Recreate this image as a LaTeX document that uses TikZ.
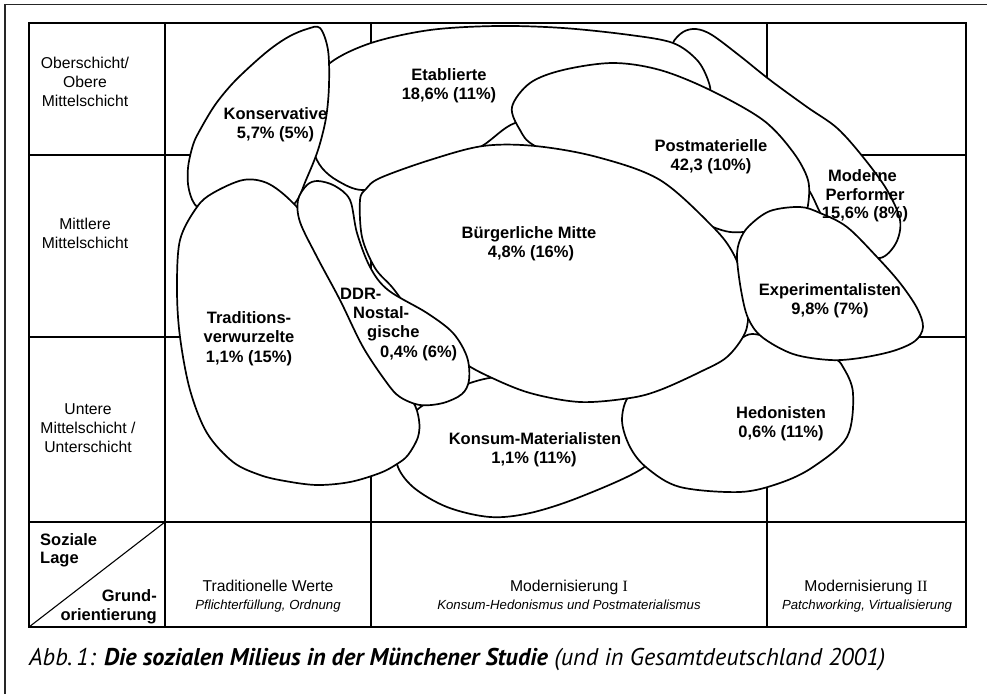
\documentclass[tikz,border=0pt]{standalone}
\usepackage{fontspec}
\setmainfont{Liberation Sans}
\newfontfamily\romfont{Liberation Serif}
\newfontfamily\capfont{PT Sans}
\begin{document}
\begin{tikzpicture}[x=1pt,y=-1pt,
  blob/.style={draw=black,line width=1.7pt,fill=white,line join=round},
  gridline/.style={draw=black,line width=1.1pt},
  framel/.style={draw=black!85,line width=1.5pt},
  lab/.style={font=\bfseries\fontsize{16.5}{19.5}\selectfont,inner sep=0pt,anchor=base},
  labw/.style={lab,anchor=base west},
  hdr/.style={font=\fontsize{15.7}{19}\selectfont,inner sep=0pt,anchor=base},
  sub/.style={font=\itshape\fontsize{13.2}{16}\selectfont,inner sep=0pt,anchor=base}]
\useasboundingbox (0,0) rectangle (987,694);
\fill[white] (0,0) rectangle (987,694);
% outer frame
\draw[framel] (5,694) -- (5,4.5) -- (987,4.5);
% table grid
\draw[gridline] (29,23) rectangle (966,627);
\draw[gridline] (29,155) -- (966,155);
\draw[gridline] (29,337) -- (966,337);
\draw[gridline] (29,522) -- (966,522);
\draw[gridline] (165,23) -- (165,627);
\draw[gridline] (371,23) -- (371,627);
\draw[gridline] (767,23) -- (767,627);
\draw[gridline] (29,627) -- (165,522);
% blobs, back to front
% Moderne Performer
\draw[blob] plot[smooth cycle,tension=0.55] coordinates {(673,43) (683,32) (696,29) (712,35) (740,56) (770,80) (807,107) (837,128) (863,157) (887,190) (900,220) (896,243) (880,258) (855,248) (825,220) (810,192) (790,165) (755,130) (715,98) (690,70) (677,54)};
% Etablierte
\draw[blob] plot[smooth cycle,tension=0.55] coordinates {(330,63) (371,43) (430,30) (497,26) (563,28) (630,35) (673,43) (697,60) (708,80) (710,95) (700,110) (640,120) (560,118) (515,123) (482,146) (440,168) (400,183) (362,190) (338,181) (322,168) (313,150) (308,120) (312,90)};
% Postmaterielle
\draw[blob] plot[smooth cycle,tension=0.55] coordinates {(512,107) (530,83) (563,70) (613,63) (660,70) (710,90) (763,120) (793,152) (808,180) (808,205) (803,213) (780,222) (743,232) (713,227) (650,195) (590,170) (535,146) (520,130)};
% Konservative
\draw[blob] plot[smooth cycle,tension=0.55] coordinates {(320,28) (328,50) (329,85) (326,118) (318,150) (306,180) (295,203) (270,222) (225,222) (198,208) (189,190) (188,168) (193,145) (200,130) (215,105) (233,83) (255,62) (273,47) (290,36) (307,29)};
% Konsum-Materialisten
\draw[blob] plot[smooth cycle,tension=0.55] coordinates {(397,464) (413,487) (447,507) (490,517) (530,513) (580,497) (643,468) (660,440) (652,410) (640,390) (580,386) (530,378) (497,377) (470,383) (440,396) (415,412) (402,440)};
% Hedonisten
\draw[blob] plot[smooth cycle,tension=0.55] coordinates {(630,395) (622,420) (630,447) (647,468) (680,487) (740,492) (780,483) (813,467) (847,437) (853,393) (843,367) (833,358) (800,348) (770,338) (752,334) (738,340) (700,362) (660,383)};
% Traditionsverwurzelte
\draw[blob] plot[smooth cycle,tension=0.55] coordinates {(197,207) (213,193) (243,180) (267,183) (290,200) (310,225) (335,280) (365,340) (395,385) (413,402) (419,420) (418,437) (408,455) (397,464) (380,473) (350,482) (317,485) (285,481) (260,475) (233,462) (207,433) (190,390) (180,337) (177,290) (180,240)};
% Buergerliche Mitte
\draw[blob] plot[smooth cycle,tension=0.55] coordinates {(360,200) (366,189) (380,178) (430,160) (483,146) (535,146) (597,157) (660,180) (713,227) (733,253) (743,280) (748,310) (745,333) (727,357) (700,372) (660,390) (630,398) (580,402) (530,393) (490,377) (463,362) (440,340) (410,310) (392,287) (375,268) (362,237)};
% DDR-Nostalgische
\draw[blob] plot[smooth cycle,tension=0.55] coordinates {(298,200) (307,185) (318,181) (335,186) (350,200) (357,233) (370,267) (388,290) (427,313) (453,333) (467,357) (469,380) (462,394) (443,403) (420,405) (400,397) (387,383) (363,347) (340,300) (317,257) (300,222)};
% Experimentalisten
\draw[blob] plot[smooth cycle,tension=0.55] coordinates {(737,257) (740,240) (749,226) (770,211) (800,207) (820,213) (847,227) (877,257) (900,283) (917,308) (923,327) (915,341) (893,351) (860,358) (830,360) (793,354) (762,337) (748,318) (741,290)};
% blob labels
\node[lab] (ko1) at (275.5,119.3) {Konservative};
\node[lab] (ko2) at (275.5,138.5) {5,7\% (5\%)};
\node[lab] (et1) at (449,80) {Etablierte};
\node[lab] (et2) at (449,99.3) {18,6\% (11\%)};
\node[lab] (pm1) at (711,151.5) {Postmaterielle};
\node[lab] (pm2) at (711,170.5) {42,3 (10\%)};
\node[lab] (mp1) at (862.5,181.7) {Moderne};
\node[lab] (mp2) at (865,200) {Performer};
\node[lab] (mp3) at (865,218.5) {15,6\% (8\%)};
\node[lab] (bm1) at (529,238.3) {Bürgerliche Mitte};
\node[lab] (bm2) at (531,257) {4,8\% (16\%)};
\node[lab] (ex1) at (830,295) {Experimentalisten};
\node[lab] (ex2) at (830,314.5) {9,8\% (7\%)};
\node[lab] (he1) at (781,418) {Hedonisten};
\node[lab] (he2) at (781,437.5) {0,6\% (11\%)};
\node[lab] (km1) at (535,444) {Konsum-Materialisten};
\node[lab] (km2) at (534,463) {1,1\% (11\%)};
\node[labw] (dd1) at (340,299) {DDR-};
\node[labw] (dd2) at (353,318.5) {Nostal-};
\node[labw] (dd3) at (367,337.5) {gische};
\node[labw] (dd4) at (380,357) {0,4\% (6\%)};
\node[lab] (tr1) at (249,323) {Traditions-};
\node[lab] (tr2) at (249,342.5) {verwurzelte};
\node[lab] (tr3) at (249,362) {1,1\% (15\%)};
% row labels
\node[hdr] (r1a) at (85,68.3) {Oberschicht/};
\node[hdr] (r1b) at (85,87.3) {Obere};
\node[hdr] (r1c) at (85,106) {Mittelschicht};
\node[hdr] (r2a) at (85,229.5) {Mittlere};
\node[hdr] (r2b) at (85,248.5) {Mittelschicht};
\node[hdr] (r3a) at (88,414) {Untere};
\node[hdr] (r3b) at (88,433.3) {Mittelschicht /};
\node[hdr] (r3c) at (88,452.6) {Unterschicht};
% corner cell
\node[lab,anchor=base west] (sz1) at (40,545) {Soziale};
\node[lab,anchor=base west] (sz2) at (40,563.5) {Lage};
\node[lab,anchor=base east] (gr1) at (157,601.5) {Grund-};
\node[lab,anchor=base east] (gr2) at (157,620) {orientierung};
% column headers
\node[hdr] (c1a) at (268,591.7) {Traditionelle Werte};
\node[sub] (c1b) at (268,609.7) {Pflichterfüllung, Ordnung};
\node[hdr] (c2a) at (569,591.7) {Modernisierung {\romfont I}};
\node[sub] (c2b) at (569,609.7) {Konsum-Hedonismus und Postmaterialismus};
\node[hdr] (c3a) at (866,591.7) {Modernisierung {\romfont II}};
\node[sub] (c3b) at (867,609.7) {Patchworking, Virtualisierung};
% caption
\node[inner sep=0pt,anchor=base west] (cap) at (29,665) {\resizebox{856pt}{!}{\capfont\itshape Abb.\,1: \textbf{Die sozialen Milieus in der Münchener Studie} (und in Gesamtdeutschland 2001)}};
\end{tikzpicture}
\end{document}
